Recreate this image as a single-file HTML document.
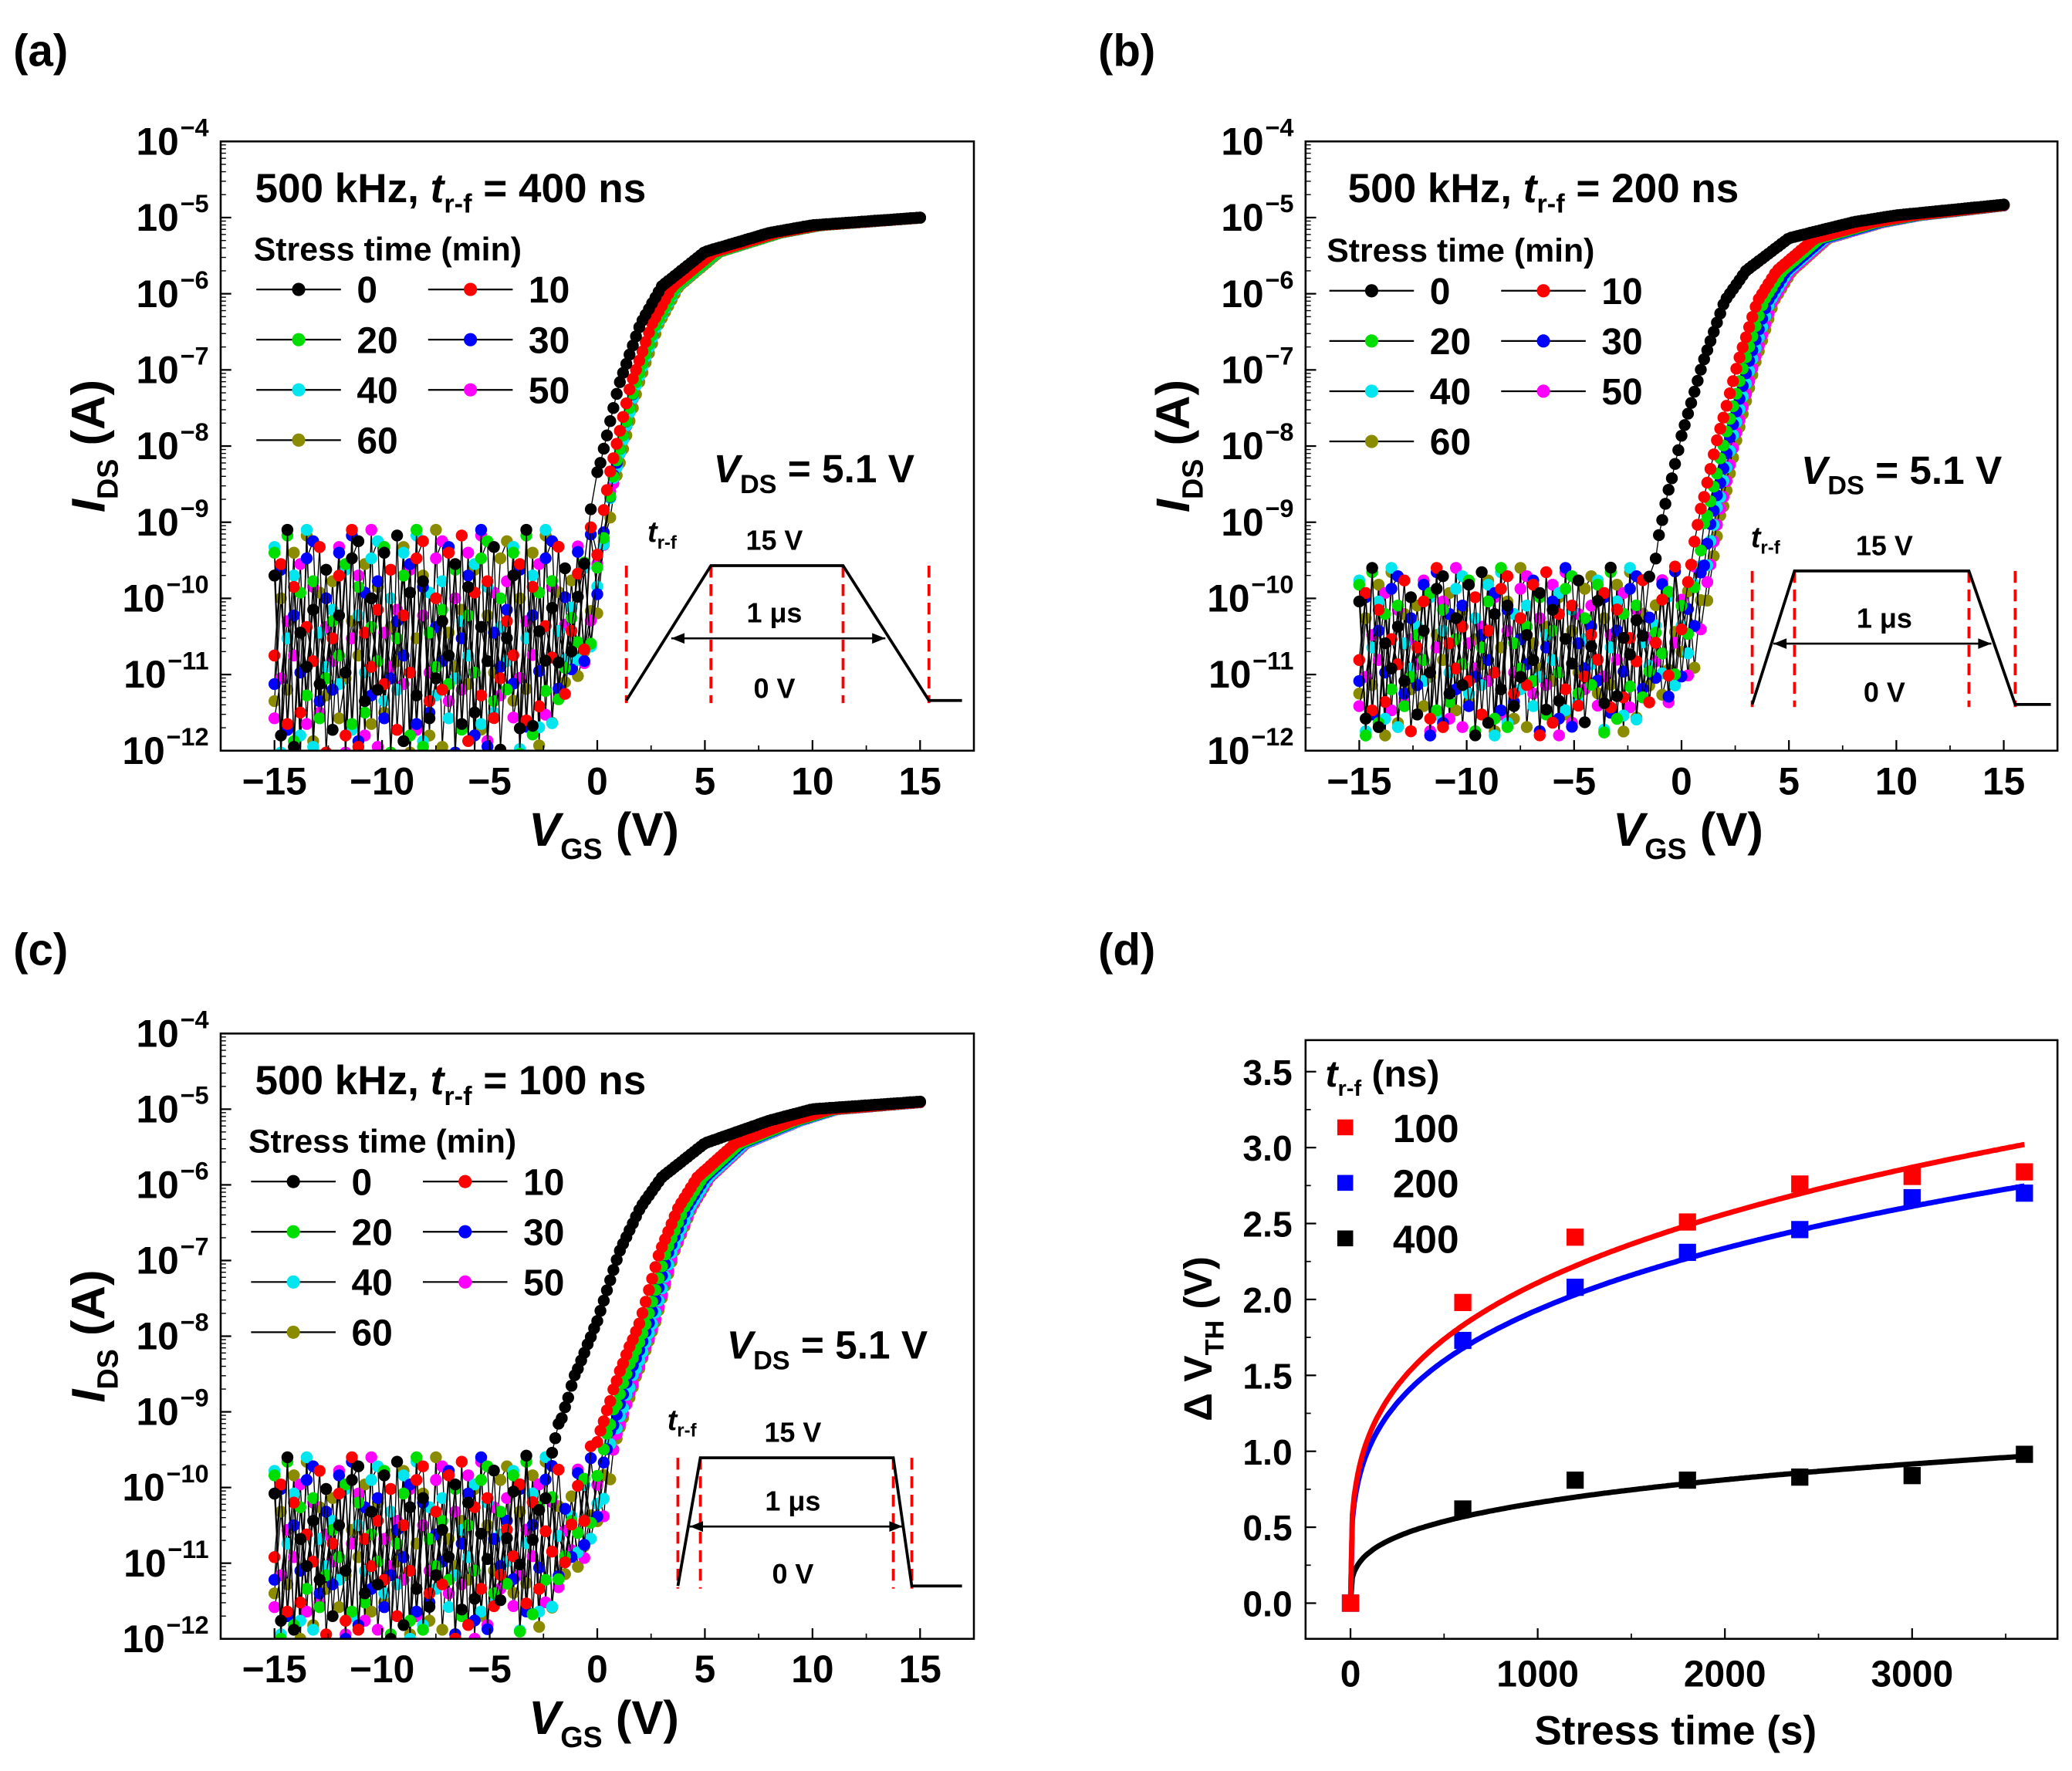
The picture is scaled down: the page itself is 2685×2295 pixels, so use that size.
<!DOCTYPE html>
<html><head><meta charset="utf-8"><style>
html,body{margin:0;padding:0;background:#fff;}
svg{display:block;font-family:"Liberation Sans",Arial,sans-serif;font-weight:bold;}
</style></head><body>
<svg id="fig" width="2685" height="2295" viewBox="0 0 1568 1340" preserveAspectRatio="none" xmlns="http://www.w3.org/2000/svg">
<defs>
<clipPath id="clipA"><rect x="167" y="107" width="570" height="461"/></clipPath>
<clipPath id="clipB"><rect x="988" y="107" width="569" height="461"/></clipPath>
<clipPath id="clipC"><rect x="167" y="782" width="570" height="458"/></clipPath>
<clipPath id="clipD"><rect x="988" y="787" width="569" height="453"/></clipPath>
</defs>
<g id="root"></g>
</svg>
<script>
// ---------- data ----------
const stressTimes = [0,10,20,30,40,50,60];
const seriesColors = ['#000000','#ff0000','#00dd00','#0000ff','#00e5ee','#ff00ff','#8b8b00'];
// base (0 min) transfer curves: VGS knots and log10(IDS)
const baseVgsA = [-3,-1,-0.5,0,1,2,3,5,8,10,15];
const baseLogA = [-12,-10.6,-9.3,-8.4,-7.2,-6.4,-5.9,-5.45,-5.2,-5.1,-5.0];
const baseVgsB = [-4,-2,-1.5,-1,0,1,2,3,5,8,10,15];
const baseLogB = [-12,-11,-10.05,-9.1,-7.87,-6.9,-6.1,-5.7,-5.27,-5.06,-4.97,-4.83];
const baseVgsC = [-5,-2.5,-2,-1,0,1,2,3,5,8,10,15];
const baseLogC = [-12,-10.4,-9.4,-8.5,-7.8,-6.9,-6.3,-5.9,-5.45,-5.15,-5.0,-4.9];
// threshold shifts (V) per stress time
const shiftA = [0,0.55,0.75,0.75,0.8,0.8,0.9];
const shiftB = [0,1.7,2.05,2.3,2.45,2.6,2.7];
const shiftC = [0,2.0,2.35,2.5,2.7,2.8,2.85];
// off-state noise (fixed read values, normalized)
const noise = [0.6,-0.3,0.9,-0.8,0.2,-0.5,1.0,-0.1,0.4,-0.9,0.7,-0.4,0.1,-0.7,0.8,-0.2,0.5,-1.0,0.3,-0.6,0.95,-0.35,0.15,-0.85,0.65,-0.15,0.45,-0.75,0.85,-0.45,0.25,-0.95,0.55,-0.25,0.05,-0.65,0.75];
// panel (d)
const dTimes = [0,600,1200,1800,2400,3000,3600];
const dV100 = [0,1.98,2.41,2.51,2.76,2.81,2.84];
const dV200 = [0,1.73,2.08,2.31,2.46,2.67,2.70];
const dV400 = [0,0.62,0.81,0.81,0.83,0.84,0.98];
const fitA = [0.305,0.289,0.085];
const fitN = [0.28,0.275,0.297];
const xTicksT = [-15,-10,-5,0,5,10,15];
const yTicksLog = [-4,-5,-6,-7,-8,-9,-10,-11,-12];
const xTicksD = [0,1000,2000,3000];
const yTicksD = [0,0.5,1,1.5,2,2.5,3,3.5];

const NS='http://www.w3.org/2000/svg';
const root=document.getElementById('root');
function el(tag,attrs,parent){const e=document.createElementNS(NS,tag);for(const k in attrs)e.setAttribute(k,attrs[k]);(parent||root).appendChild(e);return e;}
function interp(xs,ys,x){if(x<=xs[0])return ys[0]+(x-xs[0])*(ys[1]-ys[0])/(xs[1]-xs[0]);for(let i=1;i<xs.length;i++){if(x<=xs[i]){const t=(x-xs[i-1])/(xs[i]-xs[i-1]);return ys[i-1]+t*(ys[i]-ys[i-1]);}}return ys[ys.length-1];}

function transferPanel(p){
  const {L,R,T,B,clip,vgs,logs,shifts,floor,amp,cap,name}=p;
  const sx=v=>L+(v+17.5)/35*(R-L);
  const sy=l=>T+(-4-l)/8*(B-T);
  const g=el('g',{});
  
  
  const data=el('g',{'clip-path':'url(#'+clip+')'},g);
  for(let s=stressTimes.length-1;s>=0;s--){
    const dv=shifts[s];
    const pts=[];
    let k=0;
    for(let v=-15;v<=15.001;k++){
      const w=v<2?1:Math.max(0.15,1-(v-2)/13*0.85);
      const c=interp(vgs,logs,v-dv*w);
      const nz=Math.min(cap,floor+amp*noise[(k*3+s*7)%noise.length]);
      const l=Math.log10(Math.pow(10,c)+Math.pow(10,nz));
      pts.push([sx(v),sy(l)]);
      v+= (c<cap-0.3)?0.3:0.15;
    }
    const pl=el('polyline',{points:pts.map(p=>p[0].toFixed(1)+','+p[1].toFixed(1)).join(' '),fill:'none',stroke:'#000','stroke-width':0.8},data);
    
    
    const mg=el('g',{fill:seriesColors[s]},data);
    
    
    pts.forEach(p=>{el('circle',{cx:p[0].toFixed(1),cy:p[1].toFixed(1),r:4.5},mg);});
  }
  el('rect',{x:L,y:T,width:R-L,height:B-T,fill:'none',stroke:'#000','stroke-width':1.5},g);
  xTicksT.forEach(v=>{const x=sx(v);el('line',{x1:x,y1:B,x2:x,y2:B-8,stroke:'#000','stroke-width':1.3},g);
    const t=el('text',{x:x,y:B+33,'text-anchor':'middle','font-size':29},g);t.textContent=(v<0?'\u2212'+(-v):String(v));
    
    const xm=sx(v+2.5);if(v<15)el('line',{x1:xm,y1:B,x2:xm,y2:B-4,stroke:'#000','stroke-width':1},g);});
  yTicksLog.forEach(l=>{const y=sy(l);el('line',{x1:L,y1:y,x2:L+8,y2:y,stroke:'#000','stroke-width':1.3},g);
    if(l>-12)for(let m=2;m<10;m++){const ym=sy(l-1+Math.log10(m));el('line',{x1:L,y1:ym,x2:L+4,y2:ym,stroke:'#000','stroke-width':0.8},g);}
    const tg=el('g',{},g);
    const sup=el('text',{x:L-9,y:y-4,'text-anchor':'end','font-size':19},tg);sup.textContent='\u2212'+(-l);
    const sw=sup.getComputedTextLength();
    const t=el('text',{x:L-10-sw,y:y+10,'text-anchor':'end','font-size':29},tg);t.textContent='10';});
  return {g,sx,sy};
}
function txt(x,y,s,size,attrs,name){const t=el('text',Object.assign({x:x,y:y,'font-size':size},attrs||{}));t.innerHTML=s;return t;}

const panels=[
 {L:167,R:737,T:107,B:568,clip:'clipA',vgs:baseVgsA,logs:baseLogA,shifts:shiftA,floor:-10.6,amp:1.5,cap:-8.6,name:'panel-a',
  title:'400',tx:193,ty:153,legX:192,legY:187,vdsX:540,vdsY:365,
  wave:{d:[474,538,638,703],top:428,bot:530,end:728,ay:483,a1:508,a2:670,tfx:490,tfy:410,lx:586}},
 {L:988,R:1557,T:107,B:568,clip:'clipB',vgs:baseVgsB,logs:baseLogB,shifts:shiftB,floor:-10.7,amp:1.1,cap:-9.6,name:'panel-b',
  title:'200',tx:1020,ty:153,legX:1004,legY:188,vdsX:1363,vdsY:366,
  wave:{d:[1326,1358,1490,1525],top:432,bot:533,end:1552,ay:487,a1:1342,a2:1507,tfx:1325,tfy:414,lx:1426}},
 {L:167,R:737,T:782,B:1240,clip:'clipC',vgs:baseVgsC,logs:baseLogC,shifts:shiftC,floor:-10.8,amp:1.2,cap:-9.6,name:'panel-c',
  title:'100',tx:193,ty:828,legX:188,legY:862,vdsX:550,vdsY:1028,
  wave:{d:[513,530,676,690],top:1103,bot:1200,end:728,ay:1155,a1:522,a2:683,tfx:505,tfy:1082,lx:600}}
];
panels.forEach(p=>{
  const {g}=transferPanel(p);
  txt(p.tx,p.ty,'500 kHz, <tspan font-style="italic">t</tspan><tspan font-size="20" dy="8">r-f</tspan><tspan dy="-8"> = '+p.title+' ns</tspan>',31,{},'panel-title');
  txt(p.legX,p.legY+10,'Stress time (min)',25,{},'legend-title');
  stressTimes.forEach((st,i)=>{
    const col=i%2, row=Math.floor(i/2);
    const x0=p.legX+2+col*130, y=p.legY+32+row*38;
    const lg=el('g',{});
    el('line',{x1:x0,y1:y,x2:x0+64,y2:y,stroke:'#000','stroke-width':1.3},lg);
    el('circle',{cx:x0+32,cy:y,r:5,fill:seriesColors[i]},lg);
    const t=el('text',{x:x0+76,y:y+10,'font-size':28},lg);t.textContent=st;
  });
  txt(p.vdsX,p.vdsY,'<tspan font-style="italic">V</tspan><tspan font-size="20" dy="8">DS</tspan><tspan dy="-8"> = 5.1 V</tspan>',30,{},'vds-label');
  const w=p.wave, wg=el('g',{});
  w.d.forEach(x=>el('line',{x1:x,y1:w.top,x2:x,y2:w.bot+2,stroke:'#ff0000','stroke-width':2.2,'stroke-dasharray':'9,5'},wg));
  el('polyline',{points:`${w.d[0]},${w.bot} ${w.d[1]},${w.top} ${w.d[2]},${w.top} ${w.d[3]},${w.bot} ${w.end},${w.bot}`,fill:'none',stroke:'#000','stroke-width':2.2},wg);
  el('line',{x1:w.a1,y1:w.ay,x2:w.a2,y2:w.ay,stroke:'#000','stroke-width':1.5},wg);
  el('polygon',{points:`${w.a1},${w.ay} ${w.a1+10},${w.ay-4} ${w.a1+10},${w.ay+4}`,fill:'#000'},wg);
  el('polygon',{points:`${w.a2},${w.ay} ${w.a2-10},${w.ay-4} ${w.a2-10},${w.ay+4}`,fill:'#000'},wg);
  txt(w.tfx,w.tfy,'<tspan font-style="italic">t</tspan><tspan font-size="14" dy="5">r-f</tspan>',22,{},'trf-label');
  txt(w.lx,w.top-12,'15 V',21,{'text-anchor':'middle'},'high-level-label');
  txt(w.lx,w.ay-12,'1 \u03bcs',21,{'text-anchor':'middle'},'period-label');
  txt(w.lx,w.bot-2,'0 V',21,{'text-anchor':'middle'},'low-level-label');
  const cx=(p.L+p.R)/2+5;
  txt(cx,p.B+72,'<tspan font-style="italic">V</tspan><tspan font-size="22" dy="10">GS</tspan><tspan dy="-10"> (V)</tspan>',36,{'text-anchor':'middle'},'x-axis-title');
  const cy=(p.T+p.B)/2;
  txt(0,0,'<tspan font-style="italic">I</tspan><tspan font-size="22" dy="10">DS</tspan><tspan dy="-10"> (A)</tspan>',36,{'text-anchor':'middle',transform:`translate(${p.L-88},${cy}) rotate(-90)`},'y-axis-title');
});
txt(10,50,'(a)',34,{},'panel-label-a');
txt(831,50,'(b)',34,{},'panel-label-b');
txt(10,730,'(c)',34,{},'panel-label-c');
txt(831,730,'(d)',34,{},'panel-label-d');

// ---------- panel d ----------
(function(){
  const L=988,R=1557,T=787,B=1240;
  const sx=t=>1022+t*(425/3000);
  const sy=v=>1213-v*114.9;
  const g=el('g',{});
  const data=el('g',{'clip-path':'url(#clipD)'},g);
  const cols=['#ff0000','#0000ff','#000000'];
  const sets=[dV100,dV200,dV400];
  const labels=['100','200','400'];
  [2,1,0].forEach(i=>{
    const pts=[];for(let t=0;t<=3600;t+=10){pts.push(sx(t).toFixed(1)+','+sy(fitA[i]*Math.pow(t,fitN[i])).toFixed(1));}
    const pl=el('polyline',{points:pts.join(' '),fill:'none',stroke:cols[i],'stroke-width':4},data);
    
    sets[i].forEach((v,j)=>{const r=el('rect',{x:sx(dTimes[j])-6.5,y:sy(v)-6.5,width:13,height:13,fill:cols[i]},data);
      });
  });
  el('rect',{x:L,y:T,width:R-L,height:B-T,fill:'none',stroke:'#000','stroke-width':1.5},g);
  xTicksD.forEach(t=>{const x=sx(t);el('line',{x1:x,y1:B,x2:x,y2:B-8,stroke:'#000','stroke-width':1.3},g);
    const xm=sx(t+500);el('line',{x1:xm,y1:B,x2:xm,y2:B-4,stroke:'#000','stroke-width':1},g);
    const tx=el('text',{x:x,y:B+36,'text-anchor':'middle','font-size':28},g);tx.textContent=t;});
  yTicksD.forEach(v=>{const y=sy(v);el('line',{x1:L,y1:y,x2:L+8,y2:y,stroke:'#000','stroke-width':1.3},g);
    if(v<3.5){const ym=sy(v+0.25);el('line',{x1:L,y1:ym,x2:L+4,y2:ym,stroke:'#000','stroke-width':1},g);}
    const tx=el('text',{x:L-10,y:y+10,'text-anchor':'end','font-size':27},g);tx.textContent=v.toFixed(1);});
  txt(1268,1320,'Stress time (s)',31,{'text-anchor':'middle'},'x-axis-title');
  txt(0,0,'\u0394 V<tspan font-size="20" dy="9">TH</tspan><tspan dy="-9"> (V)</tspan>',30,{'text-anchor':'middle',transform:'translate(917,1013) rotate(-90)'},'y-axis-title');
  txt(1003,822,'<tspan font-style="italic">t</tspan><tspan font-size="17" dy="7">r-f</tspan><tspan dy="-7"> (ns)</tspan>',28,{},'legend-title');
  labels.forEach((lb,i)=>{const y=853+i*42;const lg=el('g',{});
    el('rect',{x:1012,y:y-6,width:12,height:12,fill:cols[i]},lg);
    const t=el('text',{x:1054,y:y+11,'font-size':30},lg);t.textContent=lb;});
})();
</script>
</body></html>
